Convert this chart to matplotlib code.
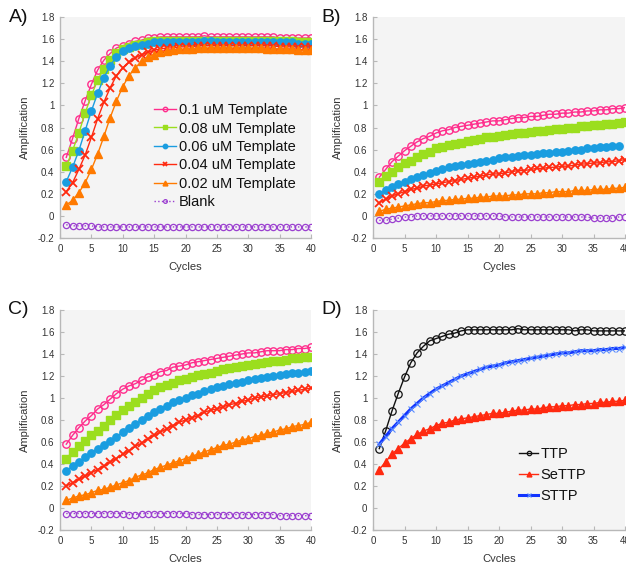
import matplotlib
matplotlib.use("Agg")
import matplotlib.pyplot as plt
from matplotlib.ticker import FuncFormatter
import numpy as np

plt.rcParams['font.family'] = ['Liberation Sans', 'DejaVu Sans']

cycles = list(range(1, 41))

# Panel A
a_01 = [0.53, 0.70, 0.88, 1.04, 1.19, 1.32, 1.41, 1.47, 1.52, 1.54, 1.56, 1.58, 1.59, 1.61, 1.61, 1.62, 1.62, 1.62, 1.62, 1.62,
        1.62, 1.62, 1.63, 1.62, 1.62, 1.62, 1.62, 1.62, 1.62, 1.62, 1.62, 1.62, 1.62, 1.62, 1.61, 1.61, 1.61, 1.61, 1.61, 1.61]
a_008 = [0.45, 0.59, 0.75, 0.93, 1.09, 1.23, 1.33, 1.41, 1.47, 1.51, 1.53, 1.55, 1.56, 1.57, 1.58, 1.58, 1.58, 1.58, 1.58, 1.58,
         1.58, 1.58, 1.58, 1.58, 1.58, 1.58, 1.58, 1.58, 1.58, 1.58, 1.58, 1.58, 1.58, 1.58, 1.58, 1.58, 1.58, 1.57, 1.57, 1.57]
a_006 = [0.31, 0.44, 0.59, 0.77, 0.95, 1.11, 1.25, 1.36, 1.44, 1.49, 1.52, 1.54, 1.55, 1.56, 1.57, 1.57, 1.57, 1.57, 1.57, 1.57,
         1.57, 1.57, 1.58, 1.58, 1.57, 1.57, 1.57, 1.57, 1.57, 1.57, 1.57, 1.57, 1.57, 1.57, 1.57, 1.57, 1.57, 1.56, 1.56, 1.56]
a_004 = [0.22, 0.30, 0.42, 0.55, 0.71, 0.88, 1.03, 1.16, 1.27, 1.34, 1.39, 1.43, 1.46, 1.48, 1.50, 1.51, 1.52, 1.52, 1.53, 1.53,
         1.53, 1.54, 1.54, 1.54, 1.54, 1.54, 1.54, 1.54, 1.54, 1.54, 1.54, 1.54, 1.54, 1.54, 1.53, 1.53, 1.53, 1.53, 1.53, 1.53]
a_002 = [0.10, 0.14, 0.21, 0.30, 0.42, 0.56, 0.72, 0.89, 1.04, 1.17, 1.27, 1.34, 1.40, 1.44, 1.46, 1.48, 1.49, 1.50, 1.51, 1.51,
         1.51, 1.52, 1.52, 1.52, 1.52, 1.52, 1.52, 1.52, 1.52, 1.52, 1.52, 1.52, 1.51, 1.51, 1.51, 1.51, 1.51, 1.50, 1.50, 1.50]
a_blank = [-0.08, -0.09, -0.09, -0.09, -0.09, -0.10, -0.10, -0.10, -0.10, -0.10, -0.10, -0.10, -0.10, -0.10, -0.10, -0.10, -0.10, -0.10, -0.10, -0.10,
           -0.10, -0.10, -0.10, -0.10, -0.10, -0.10, -0.10, -0.10, -0.10, -0.10, -0.10, -0.10, -0.10, -0.10, -0.10, -0.10, -0.10, -0.10, -0.10, -0.10]

# Panel B
b_01 = [0.35, 0.42, 0.49, 0.54, 0.59, 0.63, 0.67, 0.70, 0.72, 0.75, 0.77, 0.78, 0.80, 0.81, 0.82, 0.83, 0.84, 0.85, 0.86, 0.86,
        0.87, 0.88, 0.89, 0.89, 0.90, 0.90, 0.91, 0.92, 0.92, 0.93, 0.93, 0.94, 0.94, 0.95, 0.95, 0.96, 0.96, 0.97, 0.97, 0.98]
b_008 = [0.31, 0.36, 0.40, 0.44, 0.48, 0.50, 0.53, 0.56, 0.58, 0.61, 0.62, 0.64, 0.65, 0.66, 0.68, 0.69, 0.70, 0.71, 0.71, 0.72,
         0.73, 0.74, 0.75, 0.75, 0.76, 0.77, 0.77, 0.78, 0.79, 0.79, 0.80, 0.80, 0.81, 0.81, 0.82, 0.82, 0.83, 0.83, 0.84, 0.85]
b_006 = [0.20, 0.23, 0.26, 0.29, 0.31, 0.33, 0.35, 0.37, 0.39, 0.41, 0.42, 0.44, 0.45, 0.46, 0.47, 0.48, 0.49, 0.50, 0.51, 0.52,
         0.53, 0.53, 0.54, 0.55, 0.55, 0.56, 0.57, 0.57, 0.58, 0.58, 0.59, 0.60, 0.60, 0.61, 0.61, 0.62, 0.62, 0.63, 0.63, np.nan]
b_004 = [0.12, 0.15, 0.18, 0.20, 0.22, 0.24, 0.25, 0.27, 0.28, 0.29, 0.30, 0.31, 0.32, 0.33, 0.34, 0.35, 0.36, 0.37, 0.38, 0.38,
         0.39, 0.40, 0.41, 0.41, 0.42, 0.43, 0.43, 0.44, 0.44, 0.45, 0.45, 0.46, 0.47, 0.47, 0.48, 0.48, 0.49, 0.49, 0.50, 0.51]
b_002 = [0.04, 0.06, 0.07, 0.08, 0.09, 0.10, 0.11, 0.12, 0.12, 0.13, 0.14, 0.14, 0.15, 0.15, 0.16, 0.16, 0.17, 0.17, 0.18, 0.18,
         0.18, 0.19, 0.19, 0.20, 0.20, 0.20, 0.21, 0.21, 0.22, 0.22, 0.22, 0.23, 0.23, 0.23, 0.24, 0.24, 0.24, 0.25, 0.25, 0.26]
b_blank = [-0.04, -0.04, -0.03, -0.02, -0.01, -0.01, 0.00, 0.00, 0.00, 0.00, 0.00, 0.00, 0.00, 0.00, 0.00, 0.00, 0.00, 0.00, 0.00, 0.00,
           -0.01, -0.01, -0.01, -0.01, -0.01, -0.01, -0.01, -0.01, -0.01, -0.01, -0.01, -0.01, -0.01, -0.01, -0.02, -0.02, -0.02, -0.02, -0.01, -0.01]

# Panel C
c_01 = [0.58, 0.66, 0.73, 0.79, 0.84, 0.90, 0.94, 0.99, 1.04, 1.08, 1.11, 1.13, 1.16, 1.19, 1.21, 1.24, 1.25, 1.28, 1.29, 1.30,
        1.32, 1.33, 1.34, 1.35, 1.36, 1.37, 1.38, 1.39, 1.40, 1.41, 1.41, 1.42, 1.43, 1.43, 1.43, 1.44, 1.44, 1.45, 1.45, 1.46]
c_008 = [0.45, 0.51, 0.56, 0.61, 0.66, 0.70, 0.75, 0.80, 0.85, 0.89, 0.93, 0.96, 1.00, 1.04, 1.07, 1.10, 1.12, 1.14, 1.16, 1.17,
         1.19, 1.21, 1.22, 1.23, 1.25, 1.26, 1.27, 1.28, 1.29, 1.30, 1.31, 1.32, 1.33, 1.34, 1.34, 1.35, 1.36, 1.36, 1.37, 1.37]
c_006 = [0.34, 0.38, 0.42, 0.46, 0.50, 0.54, 0.57, 0.61, 0.65, 0.69, 0.73, 0.76, 0.80, 0.84, 0.87, 0.90, 0.93, 0.96, 0.98, 1.00,
         1.03, 1.04, 1.06, 1.08, 1.10, 1.11, 1.13, 1.14, 1.15, 1.16, 1.17, 1.18, 1.19, 1.20, 1.21, 1.22, 1.23, 1.23, 1.24, 1.25]
c_004 = [0.20, 0.23, 0.26, 0.29, 0.32, 0.35, 0.38, 0.42, 0.45, 0.49, 0.52, 0.56, 0.59, 0.63, 0.66, 0.69, 0.72, 0.75, 0.78, 0.80,
         0.82, 0.84, 0.87, 0.89, 0.90, 0.92, 0.94, 0.95, 0.97, 0.98, 1.00, 1.01, 1.02, 1.03, 1.04, 1.05, 1.06, 1.07, 1.08, 1.09]
c_002 = [0.07, 0.09, 0.11, 0.12, 0.14, 0.16, 0.17, 0.19, 0.21, 0.23, 0.25, 0.28, 0.30, 0.32, 0.35, 0.37, 0.39, 0.41, 0.43, 0.45,
         0.47, 0.49, 0.51, 0.53, 0.55, 0.57, 0.58, 0.60, 0.62, 0.63, 0.65, 0.66, 0.68, 0.69, 0.71, 0.72, 0.74, 0.75, 0.76, 0.78]
c_blank = [-0.05, -0.05, -0.05, -0.05, -0.05, -0.05, -0.05, -0.05, -0.05, -0.05, -0.06, -0.06, -0.05, -0.05, -0.05, -0.05, -0.05, -0.05, -0.05, -0.05,
           -0.06, -0.06, -0.06, -0.06, -0.06, -0.06, -0.06, -0.06, -0.06, -0.06, -0.06, -0.06, -0.06, -0.06, -0.07, -0.07, -0.07, -0.07, -0.07, -0.07]

# Panel D
d_ttp = [0.54, 0.70, 0.88, 1.04, 1.19, 1.32, 1.41, 1.47, 1.52, 1.54, 1.56, 1.58, 1.59, 1.61, 1.62, 1.62, 1.62, 1.62, 1.62, 1.62,
         1.62, 1.62, 1.63, 1.62, 1.62, 1.62, 1.62, 1.62, 1.62, 1.62, 1.62, 1.61, 1.62, 1.62, 1.61, 1.61, 1.61, 1.61, 1.61, 1.61]
d_settp = [0.35, 0.42, 0.49, 0.54, 0.59, 0.63, 0.67, 0.70, 0.72, 0.75, 0.77, 0.78, 0.80, 0.81, 0.82, 0.83, 0.84, 0.85, 0.86, 0.86,
           0.87, 0.88, 0.89, 0.89, 0.90, 0.90, 0.91, 0.92, 0.92, 0.93, 0.93, 0.94, 0.94, 0.95, 0.95, 0.96, 0.96, 0.97, 0.97, 0.98]
d_sttp = [0.58, 0.65, 0.72, 0.78, 0.84, 0.90, 0.95, 1.00, 1.04, 1.08, 1.11, 1.14, 1.17, 1.20, 1.22, 1.24, 1.26, 1.28, 1.29, 1.30,
          1.32, 1.33, 1.34, 1.35, 1.36, 1.37, 1.38, 1.39, 1.40, 1.41, 1.41, 1.42, 1.43, 1.43, 1.43, 1.44, 1.44, 1.45, 1.45, 1.46]

template_labels = ['0.1 uM Template', '0.08 uM Template', '0.06 uM Template',
                   '0.04 uM Template', '0.02 uM Template', 'Blank']
d_labels = ['TTP', 'SeTTP', 'STTP']
panel_letters = ['A)', 'B)', 'C)', 'D)']
xticks = [0, 5, 10, 15, 20, 25, 30, 35, 40]
yticks = [-0.2, 0, 0.2, 0.4, 0.6, 0.8, 1.0, 1.2, 1.4, 1.6, 1.8]

PINK = '#ff2d8c'
GREEN = '#9bde1e'
BLUE = '#1a9de0'
RED = '#ff2a10'
ORANGE = '#ff7a00'
PURPLE = '#9b3fd0'

W, H = 626, 562
fig = plt.figure(figsize=(W / 100, H / 100), dpi=100)

def px_axes(x0, y0, x1, y1):
    return fig.add_axes([x0 / W, 1 - y1 / H, (x1 - x0) / W, (y1 - y0) / H])

axA = px_axes(60, 17, 311, 238)
axB = px_axes(373, 17, 625, 238)
axC = px_axes(60, 310, 311, 530)
axD = px_axes(373, 310, 625, 530)

fmt = FuncFormatter(lambda v, p: f'{v:g}')

def style(ax, letter):
    ax.set_facecolor('#f4f4f4')
    ax.set_xlim(0, 40)
    ax.set_ylim(-0.2, 1.8)
    ax.set_xticks(xticks)
    ax.set_yticks(yticks)
    ax.yaxis.set_major_formatter(fmt)
    for s in ['top', 'right']:
        ax.spines[s].set_visible(False)
    for s in ['left', 'bottom']:
        ax.spines[s].set_color('#b8b8b8')
        ax.spines[s].set_linewidth(1.0)
    ax.tick_params(direction='in', length=3, width=0.8, color='#b8b8b8',
                   labelsize=7, labelcolor='#333333', pad=4)
    ax.set_xlabel('Cycles', fontsize=8, color='#333333', labelpad=6)
    ax.set_ylabel('Amplification', fontsize=8, color='#333333', labelpad=6)
    ax.text(-0.165, 1.0, letter, transform=ax.transAxes, fontsize=14,
            ha='center', va='center', color='#111111')

def template_panel(ax, s01, s008, s006, s004, s002, sblank):
    ax.plot(cycles, s01, color=PINK, lw=1.0, marker='o', ms=5.3, mfc='none', mew=1.0, label=template_labels[0])
    ax.plot(cycles, s008, color=GREEN, lw=1.0, marker='s', ms=5.3, mec=GREEN, label=template_labels[1])
    ax.plot(cycles, s006, color=BLUE, lw=1.0, marker='o', ms=5.3, mec=BLUE, label=template_labels[2])
    ax.plot(cycles, s004, color=RED, lw=1.0, marker='x', ms=5.3, mew=1.3, label=template_labels[3])
    ax.plot(cycles, s002, color=ORANGE, lw=1.0, marker='^', ms=5.8, mec=ORANGE, label=template_labels[4])
    ax.plot(cycles, sblank, color=PURPLE, lw=1.0, ls=':', marker='o', ms=4.5, mfc='none', mew=0.9, label=template_labels[5])

template_panel(axA, a_01, a_008, a_006, a_004, a_002, a_blank)
template_panel(axB, b_01, b_008, b_006, b_004, b_002, b_blank)
template_panel(axC, c_01, c_008, c_006, c_004, c_002, c_blank)

axD.plot(cycles, d_ttp, color='#111111', lw=1.0, marker='o', ms=5.3, mfc='none', mew=0.9, label=d_labels[0])
axD.plot(cycles, d_settp, color=RED, lw=1.0, marker='^', ms=5.8, mec=RED, label=d_labels[1])
axD.plot(cycles, d_sttp, color='#1133ff', lw=2.2, marker='x', ms=4, mec='#5a8cff', mew=0.8, label=d_labels[2])

for ax, letter in zip([axA, axB, axC, axD], panel_letters):
    style(ax, letter)

legA = axA.legend(loc='upper left', bbox_to_anchor=(0.375, 0.61), frameon=False,
                  fontsize=10.5, handlelength=1.5, handletextpad=0.2, labelspacing=0.3,
                  borderpad=0, borderaxespad=0, markerscale=0.6)
for t in legA.get_texts():
    t.set_color('#111111')
legD = axD.legend(loc='upper left', bbox_to_anchor=(0.58, 0.375), frameon=False,
                  fontsize=10.5, handlelength=1.3, handletextpad=0.15, labelspacing=0.45,
                  borderpad=0, borderaxespad=0, markerscale=0.6)
for t in legD.get_texts():
    t.set_color('#111111')

fig.savefig('out.png', dpi=100)
